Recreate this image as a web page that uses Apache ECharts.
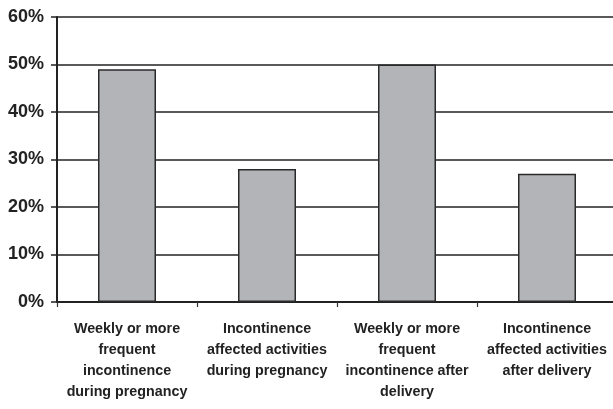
<!DOCTYPE html>
<html><head><meta charset="utf-8">
<script src="https://cdn.jsdelivr.net/npm/echarts@6/dist/echarts.min.js"></script>
<style>html,body{margin:0;padding:0;background:#fff}#c{width:613px;height:409px}</style>
</head><body><div id="c"></div>
<script>
var categories = [
  "Weekly or more\nfrequent\nincontinence\nduring pregnancy",
  "Incontinence\naffected activities\nduring pregnancy",
  "Weekly or more\nfrequent\nincontinence after\ndelivery",
  "Incontinence\naffected activities\nafter delivery"
];
var values = [49, 28, 50, 27];
var yTicks = [0, 10, 20, 30, 40, 50, 60];

var FONT = '"Liberation Sans", Arial, sans-serif';
var chart = echarts.init(document.getElementById('c'), null, {renderer:'canvas'});
chart.setOption({
  animation: false,
  backgroundColor: '#fff',
  grid: {left: 57, right: -4, top: 17, bottom: 107, containLabel: false, outerBoundsMode: 'none'},
  xAxis: {
    type: 'category', data: categories,
    axisLine: {lineStyle: {color: '#222', width: 2}},
    axisTick: {show: true, length: 5, lineStyle: {color: '#333', width: 1.2}},
    axisLabel: {color: '#222', fontFamily: FONT, fontWeight: 'bold', fontSize: 14.3, lineHeight: 21, margin: 17, interval: 0}
  },
  yAxis: {
    type: 'value', min: yTicks[0], max: yTicks[yTicks.length-1], interval: 10,
    axisLine: {show: true, lineStyle: {color: '#222', width: 2}},
    axisTick: {show: true, length: 6, lineStyle: {color: '#222', width: 1.5}},
    splitLine: {show: true, lineStyle: {color: '#222', width: 1.5}},
    axisLabel: {color: '#222', fontFamily: FONT, fontWeight: 'bold', fontSize: 18, margin: 13, formatter: '{value}%'}
  },
  series: [{
    type: 'bar', data: values, barWidth: 58,
    itemStyle: {color: '#b3b4b8', borderColor: '#2a2a2a', borderWidth: 1.5}
  }]
});
</script></body></html>
